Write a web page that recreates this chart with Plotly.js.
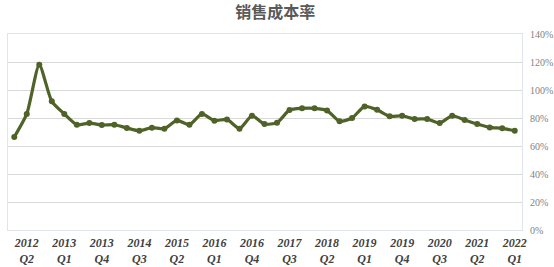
<!DOCTYPE html>
<html>
<head>
<meta charset="utf-8">
<script src="https://cdn.plot.ly/plotly-3.0.1.min.js"></script>
<style>html,body{margin:0;padding:0;background:#fff;}#chart{width:554px;height:267px;}</style>
</head>
<body>
<div id="chart"></div>
<script>
// Quarters 2012Q1 .. 2022Q1
const quarters = [
  "2012Q1","2012Q2","2012Q3","2012Q4",
  "2013Q1","2013Q2","2013Q3","2013Q4",
  "2014Q1","2014Q2","2014Q3","2014Q4",
  "2015Q1","2015Q2","2015Q3","2015Q4",
  "2016Q1","2016Q2","2016Q3","2016Q4",
  "2017Q1","2017Q2","2017Q3","2017Q4",
  "2018Q1","2018Q2","2018Q3","2018Q4",
  "2019Q1","2019Q2","2019Q3","2019Q4",
  "2020Q1","2020Q2","2020Q3","2020Q4",
  "2021Q1","2021Q2","2021Q3","2021Q4",
  "2022Q1"
];
// Cost of sales ratio (%)
const costRatio = [
  66.4, 82.9, 118.0, 91.9, 82.9, 75.2, 76.4, 75.0, 75.2, 72.9,
  70.9, 73.1, 72.4, 78.3, 75.2, 82.9, 78.1, 79.0, 72.4, 81.6,
  75.7, 76.6, 85.7, 86.9, 86.9, 85.4, 77.6, 80.0, 88.3, 85.9,
  81.2, 81.6, 79.3, 79.3, 76.4, 81.6, 78.6, 75.7, 73.3, 72.6,
  70.9
];
const tickQuarters = ["2012Q2","2013Q1","2013Q4","2014Q3","2015Q2","2016Q1","2016Q4",
  "2017Q3","2018Q2","2019Q1","2019Q4","2020Q3","2021Q2","2022Q1"];
const tickLabels = tickQuarters.map(q => q.slice(0,4) + "<br>" + q.slice(4));
const yTicks = [0, 20, 40, 60, 80, 100, 120, 140];
const yTickLabels = yTicks.map(v => v + "%");

const trace = {
  type: "scatter",
  mode: "lines+markers",
  x: quarters,
  y: costRatio,
  line: {color: "#4f6228", width: 3.2, shape: "spline", smoothing: 0.6},
  marker: {color: "#4f6228", size: 6},
  hoverinfo: "x+y"
};

const layout = {
  width: 554, height: 267,
  margin: {l: 8, r: 32, t: 34, b: 37, pad: 0},
  paper_bgcolor: "#ffffff",
  plot_bgcolor: "#ffffff",
  showlegend: false,
  title: {
    text: "销售成本率",
    font: {family: "Noto Sans CJK SC", size: 16, color: "#595959", weight: 700},
    x: 0.497, xanchor: "center", y: 0.955, yanchor: "middle"
  },
  xaxis: {
    type: "category",
    range: [-0.5, 40.58],
    tickmode: "array",
    tickvals: tickQuarters,
    ticktext: tickLabels,
    tickangle: 0,
    showgrid: false,
    zeroline: false,
    showline: true,
    linecolor: "#dfe4ee",
    linewidth: 1,
    mirror: true,
    ticks: "",
    ticklabelstandoff: 2,
    tickfont: {family: "Liberation Serif", size: 12, color: "#404040", weight: 700, style: "italic"}
  },
  yaxis: {
    side: "right",
    range: [0, 140],
    tickmode: "array",
    tickvals: yTicks,
    ticktext: yTickLabels,
    showgrid: true,
    gridcolor: "#d9d9d9",
    gridwidth: 1,
    zeroline: false,
    showline: true,
    linecolor: "#dfe4ee",
    linewidth: 1,
    mirror: true,
    ticks: "",
    ticklabelstandoff: 5,
    tickfont: {family: "Liberation Serif", size: 10, color: "#7f7f7f"}
  }
};

Plotly.newPlot("chart", [trace], layout, {displayModeBar: false, staticPlot: true});
</script>
</body>
</html>
